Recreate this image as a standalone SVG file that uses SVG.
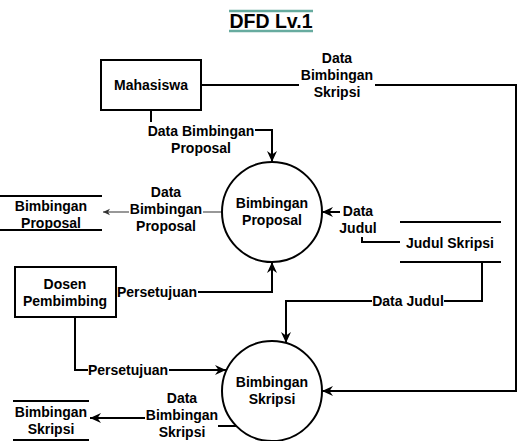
<svg xmlns="http://www.w3.org/2000/svg" width="524" height="441" viewBox="0 0 524 441">
<style>
text{font-family:"Liberation Sans",Arial,sans-serif;font-weight:bold;font-size:14px;fill:#000;text-anchor:middle}
.box{fill:#fff;stroke:#000;stroke-width:2}
.ds{stroke:#000;stroke-width:2;fill:none}
.c{fill:none;stroke:#000;stroke-width:2}
.thin{fill:none;stroke:#333;stroke-width:1.2}
.lb{fill:#fff;stroke:none}
.title{font-size:19.5px}
.tl{stroke:#67AB9F;stroke-width:2.5}
</style>
<defs>
<marker id="ah" markerUnits="userSpaceOnUse" markerWidth="14" markerHeight="12" viewBox="-12 -6 14 12" refX="0" refY="0" orient="auto"><path d="M0,0 L-11,-5 L-7.5,0 L-11,5 Z" fill="#000"/></marker>
<marker id="ahs" markerUnits="userSpaceOnUse" markerWidth="10" markerHeight="8" viewBox="-8 -4 10 8" refX="0" refY="0" orient="auto"><path d="M0,0 L-7,-3.2 L-5,0 L-7,3.2 Z" fill="#333"/></marker>
</defs>
<rect width="524" height="441" fill="#fff"/>

<g id="title">
<line class="tl" x1="229" y1="11" x2="313" y2="11"/>
<line class="tl" x1="229" y1="31" x2="313" y2="31"/>
<text class="title" x="271" y="28">DFD Lv.1</text>
</g>

<g id="connectors">
<!-- Mahasiswa -> Bimbingan Proposal -->
<path class="c" d="M151,110 V130 H272 V162" marker-end="url(#ah)"/>
<!-- Mahasiswa -> Bimbingan Skripsi -->
<path class="c" d="M201,85 H516 V391 H322" marker-end="url(#ah)"/>
<!-- Bimbingan Proposal -> store -->
<path class="thin" d="M222,212 H103" marker-end="url(#ahs)"/>
<!-- Judul Skripsi -> Bimbingan Proposal -->
<path class="c" d="M400,242 H362 V212 H322" marker-end="url(#ah)"/>
<!-- Judul Skripsi -> Bimbingan Skripsi -->
<path class="c" d="M482,262 V301 H286 V343" marker-end="url(#ah)"/>
<!-- Dosen -> Bimbingan Proposal -->
<path class="c" d="M116,292 H272 V262" marker-end="url(#ah)"/>
<!-- Dosen -> Bimbingan Skripsi -->
<path class="c" d="M75,317 V370 H226" marker-end="url(#ah)"/>
<!-- Bimbingan Skripsi -> store -->
<path class="c" d="M236,426 H182 V418 H90" marker-end="url(#ah)"/>

<g id="lbl-dbp1">
<rect class="lb" x="147" y="122" width="108" height="35"/>
<text x="201" y="136">Data Bimbingan</text>
<text x="201" y="153">Proposal</text>
</g>
<g id="lbl-dbs1">
<rect class="lb" x="299" y="50" width="76" height="52"/>
<text x="337" y="63">Data</text>
<text x="337" y="80">Bimbingan</text>
<text x="337" y="97">Skripsi</text>
</g>
<g id="lbl-dbp2">
<rect class="lb" x="129" y="184" width="74" height="51"/>
<text x="166" y="197">Data</text>
<text x="166" y="214">Bimbingan</text>
<text x="166" y="231">Proposal</text>
</g>
<g id="lbl-dj1">
<rect class="lb" x="340" y="203" width="37" height="34"/>
<text x="358" y="216">Data</text>
<text x="358" y="233">Judul</text>
</g>
<g id="lbl-dj2">
<rect class="lb" x="372" y="292" width="72" height="17"/>
<text x="408" y="306">Data Judul</text>
</g>
<g id="lbl-p1">
<rect class="lb" x="117" y="284" width="81" height="17"/>
<text x="157" y="297">Persetujuan</text>
</g>
<g id="lbl-p2">
<rect class="lb" x="88" y="362" width="81" height="17"/>
<text x="128" y="375">Persetujuan</text>
</g>
<g id="lbl-dbs2">
<rect class="lb" x="145" y="390" width="73" height="51"/>
<text x="182" y="403">Data</text>
<text x="182" y="420">Bimbingan</text>
<text x="182" y="437">Skripsi</text>
</g>
</g>

<g id="mahasiswa">
<rect class="box" x="101" y="60" width="100" height="50"/>
<text x="151" y="90">Mahasiswa</text>
</g>

<g id="dosen">
<rect class="box" x="15" y="267" width="101" height="50"/>
<text x="65" y="289">Dosen</text>
<text x="65" y="306">Pembimbing</text>
</g>

<g id="proc-proposal">
<circle class="box" cx="272" cy="212" r="50"/>
<text x="272" y="208">Bimbingan</text>
<text x="272" y="225">Proposal</text>
</g>

<g id="proc-skripsi">
<circle class="box" cx="272" cy="391" r="50"/>
<text x="272" y="387">Bimbingan</text>
<text x="272" y="404">Skripsi</text>
</g>

<g id="store-proposal">
<line class="ds" x1="0" y1="196" x2="102" y2="196"/>
<line class="ds" x1="0" y1="230" x2="102" y2="230"/>
<text x="51" y="211">Bimbingan</text>
<text x="51" y="228">Proposal</text>
</g>

<g id="store-judul">
<line class="ds" x1="400" y1="222" x2="501" y2="222"/>
<line class="ds" x1="400" y1="262" x2="501" y2="262"/>
<text x="450" y="248">Judul Skripsi</text>
</g>

<g id="store-skripsi">
<line class="ds" x1="13" y1="401" x2="89" y2="401"/>
<line class="ds" x1="13" y1="440" x2="89" y2="440"/>
<text x="51" y="417">Bimbingan</text>
<text x="51" y="434">Skripsi</text>
</g>
</svg>
